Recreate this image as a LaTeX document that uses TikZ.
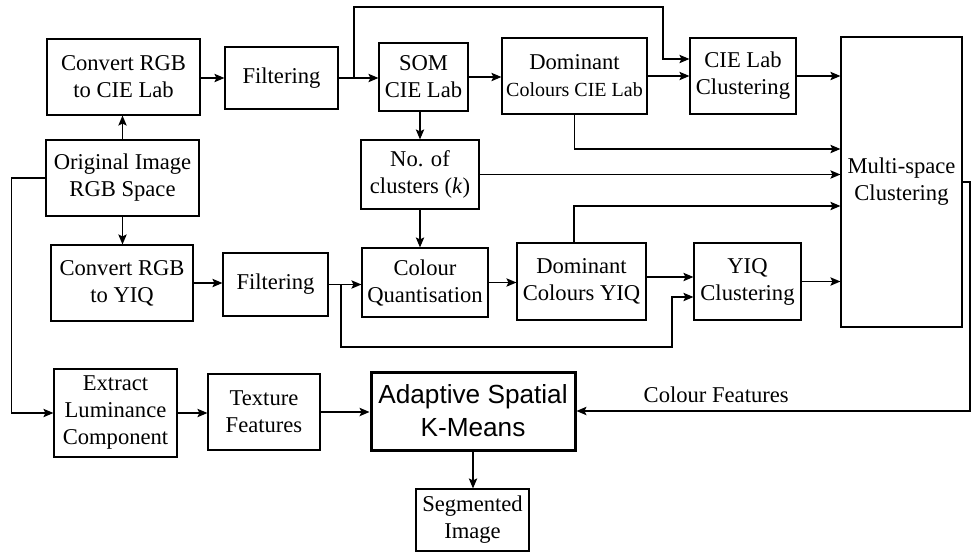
\documentclass[tikz,border=0pt]{standalone}
\usepackage{fontspec}
\setmainfont{Liberation Serif}
\setsansfont{Liberation Sans}
\usepackage{tikz}
\usetikzlibrary{arrows.meta, positioning, calc}

\begin{document}
\begin{tikzpicture}[
    x=0.5pt, y=-0.5pt,
    block/.style={rectangle, draw, line width=0.6pt, inner sep=0pt, align=center, font=\fontsize{11.3}{13.5}\selectfont},
    bigblock/.style={block, line width=1.5pt, font=\sffamily\fontsize{13.1}{16.5}\selectfont},
    arrow/.style={-{Stealth[length=5pt, width=4.2pt, inset=1pt]}, line width=0.6pt}
]
\useasboundingbox (0,0) rectangle (971,552);

\node[block, minimum width=76.5pt, minimum height=38pt] (lab) at (123.5,77) {Convert RGB\\to CIE Lab};
\node[block, minimum width=56.5pt, minimum height=31pt] (filtlab) at (281.5,78) {Filtering};
\node[block, minimum width=44.5pt, minimum height=34pt] (som) at (423.5,77) {SOM\\CIE Lab};
\node[block, minimum width=72.5pt, minimum height=38pt] (domlab) at (574.5,76) {Dominant\\{\fontsize{10}{13.5}\selectfont Colours CIE Lab}};
\node[block, minimum width=53pt, minimum height=38pt] (labclust) at (743,76) {CIE Lab\\Clustering};
\node[block, minimum width=60.5pt, minimum height=145pt] (multi) at (901.5,182) {Multi-space\\Clustering};
\node[block, minimum width=76.5pt, minimum height=38pt] (orig) at (122.5,178) {Original Image\\RGB Space};
\node[block, minimum width=59pt, minimum height=34.5pt] (nclust) at (420,174.5) {No. of\\clusters (\textit{k})};
\node[block, minimum width=71pt, minimum height=38pt] (yiq) at (122,283) {Convert RGB\\to YIQ};
\node[block, minimum width=52.5pt, minimum height=31.5pt] (filtyiq) at (275.5,284.5) {Filtering};
\node[block, minimum width=63pt, minimum height=34.5pt] (quant) at (425,282.5) {Colour\\Quantisation};
\node[block, minimum width=64.5pt, minimum height=38.5pt] (domyiq) at (581.5,281.5) {Dominant\\Colours YIQ};
\node[block, minimum width=53.5pt, minimum height=38.5pt] (yiqclust) at (747.5,281.5) {YIQ\\Clustering};
\node[block, minimum width=61.5pt, minimum height=44pt] (lum) at (115.5,413) {Extract\\Luminance\\Component};
\node[block, minimum width=56pt, minimum height=38pt] (tex) at (264,412) {Texture\\Features};
\node[bigblock, minimum width=102pt, minimum height=39pt] (askm) at (473,411) {Adaptive Spatial\\K-Means};
\node[block, minimum width=56.5pt, minimum height=31pt] (seg) at (472.5,520) {Segmented\\Image};

\coordinate (jlab) at (354,78);
\coordinate (jyiq) at (341,284.5);
\coordinate (redge) at (970,411);

\draw[arrow] (orig.north) -- (orig.north |- lab.south);
\draw[arrow] (orig.south) -- (orig.south |- yiq.north);
\draw[arrow] (lab.east |- filtlab.west) -- (filtlab.west);
\draw[arrow] (filtlab.east) -- (som.west |- filtlab.east);
\draw[arrow] (jlab) |- (663,7) |- ([yshift=8.5pt]labclust.west);
\draw[arrow] (som.east) -- (som.east -| domlab.west);
\draw[arrow] (domlab.east) -- (labclust.west);
\draw[arrow] (labclust.east) -- (labclust.east -| multi.west);
\draw[arrow] (domlab.south) |- ([yshift=16.5pt]multi.west);
\draw[arrow] (nclust.east) -- (nclust.east -| multi.west);
\draw[arrow] ([xshift=-3.75pt]domyiq.north) |- ([yshift=-12pt]multi.west);
\draw[arrow] (nclust.north |- som.south) -- (nclust.north);
\draw[arrow] (nclust.south) -- (nclust.south |- quant.north);
\draw[arrow] (yiq.east) -- (yiq.east -| filtyiq.west);
\draw[arrow] (filtyiq.east) -- (filtyiq.east -| quant.west);
\draw[arrow] (jyiq) |- (672,347) |- ([yshift=-7.75pt]yiqclust.west);
\draw[arrow] (quant.east) -- (quant.east -| domyiq.west);
\draw[arrow] ([yshift=2.25pt]domyiq.east) -- ([yshift=2.25pt]yiqclust.west);
\draw[arrow] (yiqclust.east) -- (yiqclust.east -| multi.west);
\draw[arrow] (multi.east) -| (redge) -- (askm.east) node[pos=0.645, above, inner sep=4pt, font=\fontsize{11.3}{13.5}\selectfont] {Colour Features};
\draw[arrow] (orig.west) -- ++(-34,0) |- (lum.west);
\draw[arrow] (lum.east) -- (lum.east -| tex.west);
\draw[arrow] (tex.east) -- (tex.east -| askm.west);
\draw[arrow] (askm.south) -- (askm.south |- seg.north);
\end{tikzpicture}
\end{document}
